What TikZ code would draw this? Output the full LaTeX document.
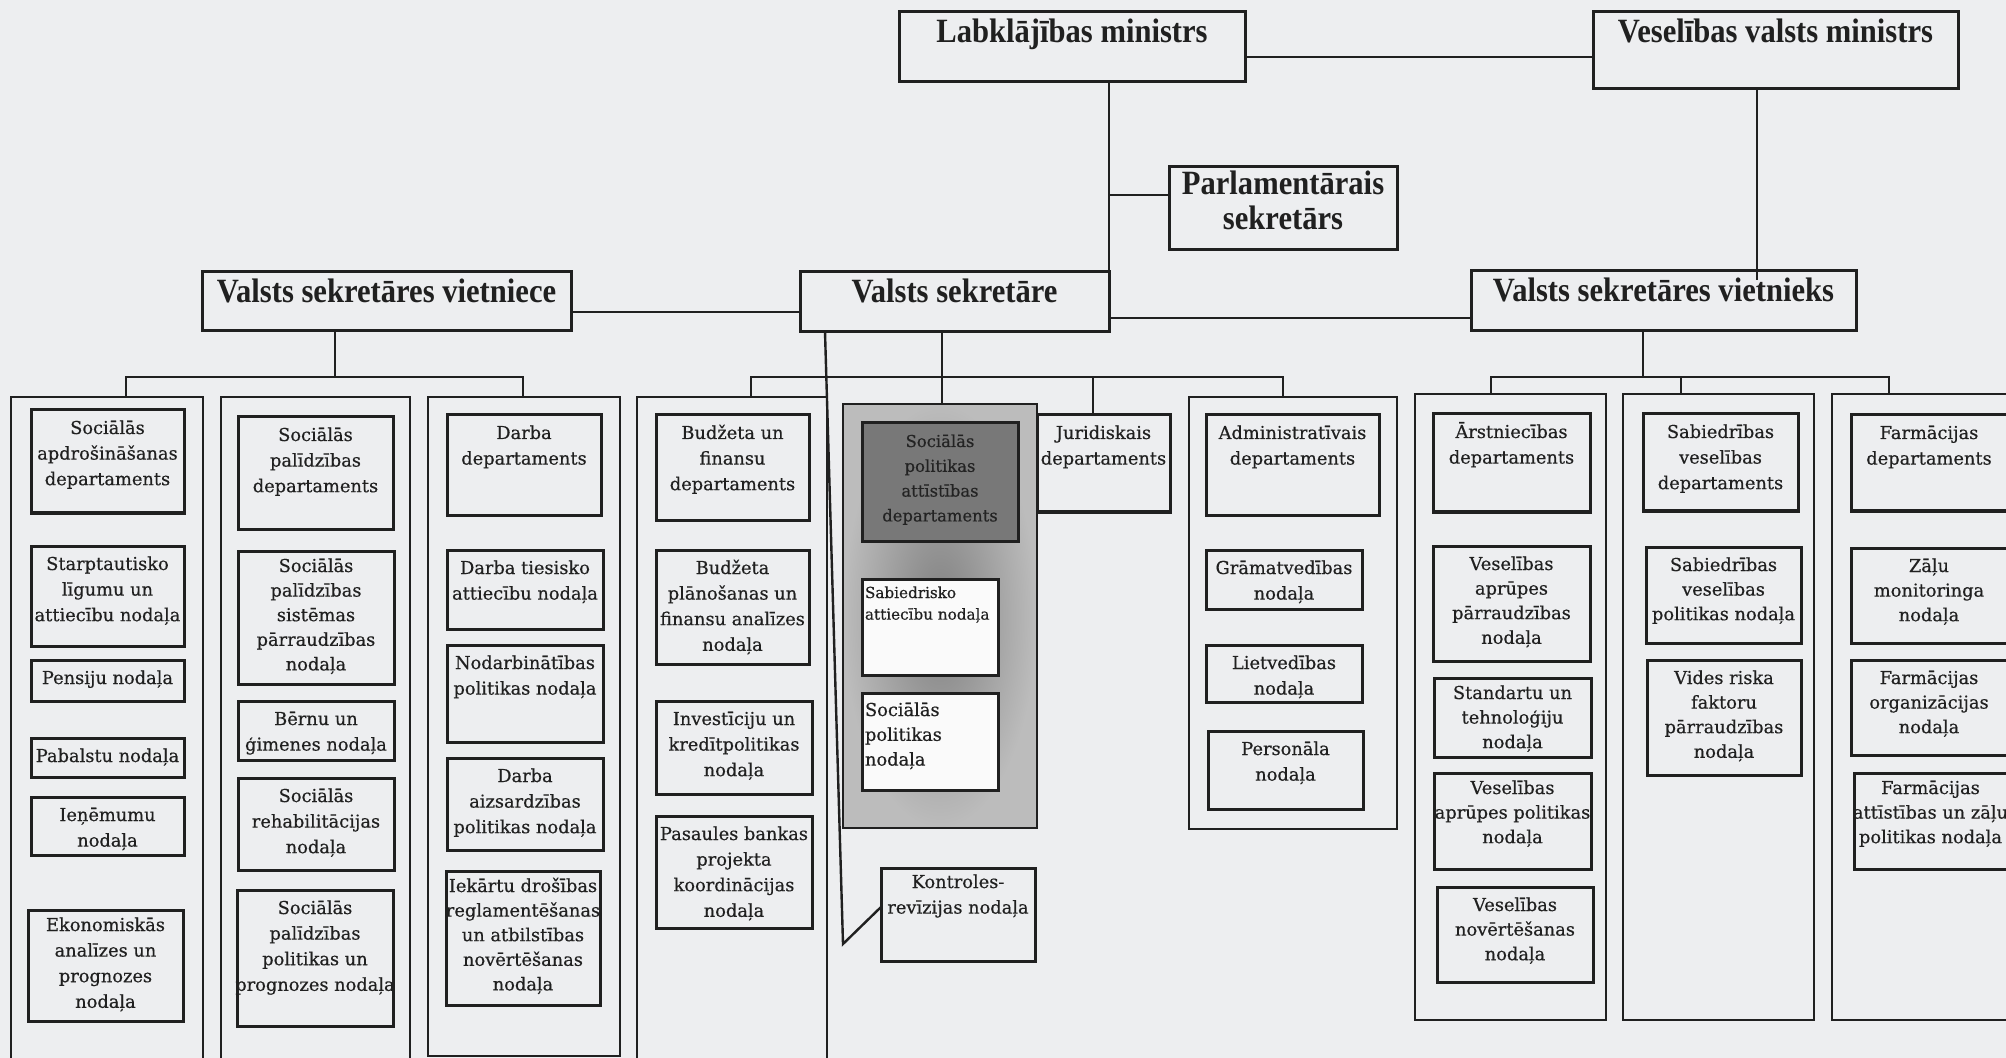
\documentclass[tikz,border=0pt]{standalone}
\usepackage{fontspec}
\setmainfont{DejaVu Serif}
\newfontfamily\boxfont[FakeBold=0.5]{DejaVu Serif}
\newfontfamily\headfont[FakeStretch=0.9]{Liberation Serif}
\usetikzlibrary{calc}
\definecolor{paper}{RGB}{237,238,240}
\definecolor{ink}{RGB}{32,32,32}
\definecolor{spafill}{RGB}{120,120,120}
\definecolor{spatext}{RGB}{35,35,35}
\definecolor{grayin}{RGB}{128,128,128}
\definecolor{grayout}{RGB}{188,188,188}
\newcommand\fbl{12pt}
\newcommand\lpad{0pt}
\tikzset{
  box/.style={draw=ink, line width=1.5pt, inner sep=0pt, outer sep=0pt, anchor=north west, text=ink, font=\boxfont\fontsize{8.9}{12.8}\selectfont},
  tight/.style={font=\boxfont\fontsize{8.9}{12.3}\selectfont},
  head/.style={font=\headfont\bfseries\fontsize{17}{17.5}\selectfont, execute at begin node={\def\fbl{15.5pt}}},
  colbox/.style={draw=ink, line width=1.4pt, inner sep=0pt, outer sep=0pt, anchor=north west},
  conn/.style={draw=ink, line width=1.2pt},
  leftbox/.style={execute at begin node={\def\lpad{1.5pt}}}
}
\newcommand\bx[8][]{%
  \pgfmathsetlengthmacro\bw{(#5-#3)*0.5pt}%
  \pgfmathsetlengthmacro\bh{(#6-#4)*0.5pt}%
  \node[box,minimum width=\bw,minimum height=\bh,#1] (#2) at (#3,#4) {\parbox[t][\bh][t]{\bw}{\noindent\rule{0pt}{\fbl}\makebox[\bw][#7]{\begin{tabular}[t]{@{\hspace{\lpad}}#7@{}}#8\end{tabular}}}};%
}
\newcommand\cl[6][]{%
  \pgfmathsetlengthmacro\bw{(#5-#3)*0.5pt}%
  \pgfmathsetlengthmacro\bh{(#6-#4)*0.5pt}%
  \node[colbox,minimum width=\bw,minimum height=\bh,#1] (#2) at (#3,#4) {};%
}
\begin{document}
\begin{tikzpicture}[x=0.5pt,y=-0.5pt]
\useasboundingbox (0,0) rectangle (2006,1058);
\fill[paper] (0,0) rectangle (2006,1058);

% top level
\bx[head]{lab}{899}{12}{1245}{82}{c}{Labklājības ministrs}
\bx[head]{ves}{1593}{12}{1958}{89}{c}{Veselības valsts ministrs}
\bx[head,execute at begin node={\def\fbl{14pt}}]{parl}{1169}{167}{1397}{250}{c}{Parlamentārais\\sekretārs}
\bx[head]{vietniece}{202}{272}{571}{331}{c}{Valsts sekretāres vietniece}
\bx[head]{sekr}{800}{272}{1109}{332}{c}{Valsts sekretāre}
\bx[head]{vietnieks}{1471}{271}{1856}{331}{c}{Valsts sekretāres vietnieks}

% columns
\cl{c1}{11}{397}{203}{1075}
\cl{c2}{221}{397}{410}{1075}
\cl{c3}{428}{397}{620}{1056}
\cl{c4}{637}{397}{827}{1075}
\cl[inner color=grayin, outer color=grayout]{gray}{843}{404}{1037}{828}
\cl{adm}{1189}{397}{1397}{829}
\cl{cA}{1415}{394}{1606}{1020}
\cl{cB}{1623}{394}{1814}{1020}
\cl{cC}{1832}{394}{2040}{1020}

% column 1
\bx{b11}{31}{410}{184}{513}{c}{Sociālās\\apdrošināšanas\\departaments}
\bx{b12}{31}{546}{184}{646}{c}{Starptautisko\\līgumu un\\attiecību nodaļa}
\bx{b13}{31}{660}{184}{701}{c}{Pensiju nodaļa}
\bx{b14}{31}{738}{184}{777}{c}{Pabalstu nodaļa}
\bx{b15}{31}{797}{184}{855}{c}{Ieņēmumu\\nodaļa}
\bx[execute at begin node={\def\fbl{10.5pt}}]{b16}{28}{910}{183}{1021}{c}{Ekonomiskās\\analīzes un\\prognozes\\nodaļa}

% column 2
\bx{b21}{238}{417}{393}{529}{c}{Sociālās\\palīdzības\\departaments}
\bx[tight,execute at begin node={\def\fbl{10.5pt}}]{b22}{238}{551}{394}{684}{c}{Sociālās\\palīdzības\\sistēmas\\pārraudzības\\nodaļa}
\bx{b23}{238}{701}{394}{760}{c}{Bērnu un\\ģimenes nodaļa}
\bx{b24}{238}{778}{394}{870}{c}{Sociālās\\rehabilitācijas\\nodaļa}
\bx{b25}{237}{890}{393}{1026}{c}{Sociālās\\palīdzības\\politikas un\\prognozes nodaļa}

% column 3
\bx{b31}{447}{415}{601}{515}{c}{Darba\\departaments}
\bx{b32}{447}{550}{603}{629}{c}{Darba tiesisko\\attiecību nodaļa}
\bx{b33}{447}{645}{603}{742}{c}{Nodarbinātības\\politikas nodaļa}
\bx{b34}{447}{758}{603}{850}{c}{Darba\\aizsardzības\\politikas nodaļa}
\bx[tight,execute at begin node={\def\fbl{10.5pt}}]{b35}{446}{871}{600}{1005}{c}{Iekārtu drošības\\reglamentēšanas\\un atbilstības\\novērtēšanas\\nodaļa}

% column 4
\bx{b41}{656}{415}{809}{520}{c}{Budžeta un\\finansu\\departaments}
\bx{b42}{656}{550}{809}{664}{c}{Budžeta\\plānošanas un\\finansu analīzes\\nodaļa}
\bx{b43}{656}{701}{812}{794}{c}{Investīciju un\\kredītpolitikas\\nodaļa}
\bx{b44}{656}{816}{812}{928}{c}{Pasaules bankas\\projekta\\koordinācijas\\nodaļa}

% social policy development (shaded)
\bx[fill=spafill,text=spatext,font=\boxfont\fontsize{8.2}{12.4}\selectfont]{spa}{862}{423}{1018}{541}{c}{Sociālās\\politikas\\attīstības\\departaments}
\bx[fill=white!96!gray,leftbox,font=\boxfont\fontsize{7.6}{10.8}\selectfont,execute at begin node={\def\fbl{9.5pt}}]{sab}{862}{579}{998}{675}{l}{Sabiedrisko\\attiecību nodaļa}
\bx[fill=white!96!gray,leftbox,font=\boxfont\fontsize{8.9}{12.4}\selectfont,execute at begin node={\def\fbl{11.5pt}}]{socp}{862}{693}{998}{790}{l}{Sociālās\\politikas\\nodaļa}

\bx{jur}{1037}{415}{1170}{512}{c}{Juridiskais\\departaments}
\bx[execute at begin node={\def\fbl{10pt}}]{kontr}{881}{868}{1035}{961}{c}{Kontroles-\\revīzijas nodaļa}

% administrative
\bx{a1}{1206}{415}{1379}{515}{c}{Administratīvais\\departaments}
\bx{a2}{1206}{550}{1362}{609}{c}{Grāmatvedības\\nodaļa}
\bx{a3}{1206}{645}{1362}{702}{c}{Lietvedības\\nodaļa}
\bx{a4}{1208}{731}{1363}{809}{c}{Personāla\\nodaļa}

% column A
\bx{A1}{1433}{414}{1590}{512}{c}{Ārstniecības\\departaments}
\bx[tight]{A2}{1433}{546}{1590}{661}{c}{Veselības\\aprūpes\\pārraudzības\\nodaļa}
\bx[tight,execute at begin node={\def\fbl{10.5pt}}]{A3}{1434}{678}{1591}{757}{c}{Standartu un\\tehnoloģiju\\nodaļa}
\bx[tight,execute at begin node={\def\fbl{10.5pt}}]{A4}{1434}{773}{1591}{869}{c}{Veselības\\aprūpes politikas\\nodaļa}
\bx[tight]{A5}{1437}{887}{1593}{982}{c}{Veselības\\novērtēšanas\\nodaļa}

% column B
\bx{B1}{1643}{414}{1798}{511}{c}{Sabiedrības\\veselības\\departaments}
\bx[tight]{B2}{1646}{547}{1801}{643}{c}{Sabiedrības\\veselības\\politikas nodaļa}
\bx[tight]{B3}{1647}{660}{1801}{775}{c}{Vides riska\\faktoru\\pārraudzības\\nodaļa}

% column C
\bx{C1}{1851}{415}{2007}{511}{c}{Farmācijas\\departaments}
\bx[tight]{C2}{1851}{548}{2007}{643}{c}{Zāļu\\monitoringa\\nodaļa}
\bx[tight]{C3}{1851}{660}{2007}{755}{c}{Farmācijas\\organizācijas\\nodaļa}
\bx[tight,execute at begin node={\def\fbl{10.5pt}}]{C4}{1854}{773}{2007}{869}{c}{Farmācijas\\attīstības un zāļu\\politikas nodaļa}

% connectors, top
\coordinate (lv) at (0,57);
\draw[conn] (lab.east |- lv) -- (ves.west |- lv);
\draw[conn] (sekr.north east |- lab.south) -- (sekr.north east);
\coordinate (pj) at (0,195);
\draw[conn] (sekr.east |- pj) -- (parl.west |- pj);
\coordinate (vj) at (0,318);
\draw[conn] (sekr.east |- vj) -- (vietnieks.west |- vj);
\coordinate (sj) at (0,312);
\draw[conn] (vietniece.east |- sj) -- (sekr.west |- sj);
\coordinate (vx) at (1757,0);
\coordinate (vy) at (0,280);
\draw[conn] (ves.south -| vx) -- (vx |- vy);

% vietniece branch
\coordinate (s1) at (335,377);
\coordinate (s1l) at (126,377);
\coordinate (s1r) at (523,377);
\draw[conn] (vietniece.south -| s1) -- (s1);
\draw[conn] (c1.north -| s1l) -- (s1l) -- (s1r) -- (c3.north -| s1r);

% sekretare branch
\coordinate (s2) at (942,377);
\coordinate (s2l) at (751,377);
\coordinate (s2r) at (1283,377);
\coordinate (s2j) at (1093,377);
\draw[conn] (sekr.south -| s2) -- (gray.north -| s2);
\draw[conn] (c4.north -| s2l) -- (s2l) -- (s2r) -- (adm.north -| s2r);
\draw[conn] (s2j) -- (jur.north -| s2j);
\coordinate (k0) at (825,0);
\coordinate (kp) at (843,944);
\coordinate (kq) at (0,907);
\draw[conn] (sekr.south -| k0) -- (kp) -- (kontr.west |- kq);

% vietnieks branch
\coordinate (s3) at (1643,377);
\coordinate (s3l) at (1491,377);
\coordinate (s3m) at (1681,377);
\coordinate (s3r) at (1889,377);
\draw[conn] (vietnieks.south -| s3) -- (s3);
\draw[conn] (cA.north -| s3l) -- (s3l) -- (s3r) -- (cC.north -| s3r);
\draw[conn] (s3m) -- (cB.north -| s3m);
\end{tikzpicture}
\end{document}
